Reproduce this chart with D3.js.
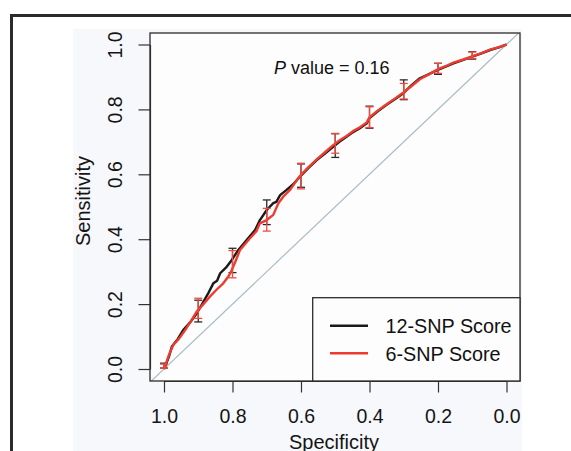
<!DOCTYPE html>
<html>
<head>
<meta charset="utf-8">
<script src="https://cdn.jsdelivr.net/npm/d3@7"></script>
<style>
  body { margin: 0; background: #fff; }
  svg { display: block; }
  text { font-family: "Liberation Sans", Arial, Helvetica, sans-serif; }
</style>
</head>
<body>
<svg id="chart"></svg>
<script>
// ROC curve, 12-SNP score (black)
const specBlack = [1.000, 0.995, 0.985, 0.977, 0.960, 0.944, 0.925, 0.904, 0.890, 0.871, 0.856, 0.845, 0.836, 0.817, 0.802, 0.783, 0.758, 0.734, 0.720, 0.700, 0.681, 0.672, 0.661, 0.642, 0.622, 0.603, 0.578, 0.554, 0.530, 0.506, 0.487, 0.467, 0.448, 0.428, 0.408, 0.400, 0.375, 0.350, 0.325, 0.301, 0.277, 0.253, 0.228, 0.202, 0.178, 0.155, 0.128, 0.102, 0.075, 0.048, 0.022, 0.000];
const sensBlack = [0.000, 0.012, 0.040, 0.069, 0.092, 0.120, 0.142, 0.172, 0.198, 0.233, 0.264, 0.272, 0.295, 0.315, 0.336, 0.367, 0.398, 0.428, 0.459, 0.490, 0.511, 0.515, 0.536, 0.552, 0.570, 0.593, 0.620, 0.644, 0.664, 0.685, 0.701, 0.716, 0.730, 0.742, 0.757, 0.773, 0.795, 0.814, 0.832, 0.850, 0.875, 0.896, 0.908, 0.921, 0.932, 0.942, 0.952, 0.962, 0.972, 0.983, 0.991, 1.000];

// ROC curve, 6-SNP score (red)
const specRed = [1.000, 0.995, 0.985, 0.973, 0.955, 0.935, 0.920, 0.905, 0.885, 0.866, 0.846, 0.827, 0.812, 0.802, 0.790, 0.778, 0.749, 0.730, 0.720, 0.700, 0.681, 0.666, 0.652, 0.632, 0.603, 0.578, 0.554, 0.530, 0.506, 0.487, 0.467, 0.448, 0.428, 0.408, 0.400, 0.375, 0.350, 0.325, 0.301, 0.277, 0.253, 0.228, 0.202, 0.178, 0.155, 0.128, 0.102, 0.075, 0.048, 0.022, 0.000];
const sensRed = [0.000, 0.014, 0.045, 0.074, 0.095, 0.125, 0.150, 0.176, 0.200, 0.223, 0.245, 0.264, 0.285, 0.305, 0.335, 0.367, 0.403, 0.425, 0.449, 0.459, 0.475, 0.511, 0.531, 0.552, 0.595, 0.622, 0.646, 0.668, 0.690, 0.705, 0.718, 0.733, 0.745, 0.760, 0.776, 0.797, 0.816, 0.834, 0.852, 0.872, 0.893, 0.907, 0.923, 0.933, 0.944, 0.953, 0.963, 0.973, 0.984, 0.992, 1.000];

// confidence intervals of sensitivity
const ciSpec = [1.0, 0.9, 0.8, 0.7, 0.6, 0.5, 0.4, 0.3, 0.2, 0.1];
const ciBlackLo = [0.003, 0.145, 0.297, 0.445, 0.560, 0.652, 0.742, 0.830, 0.908, 0.955];
const ciBlackHi = [0.018, 0.212, 0.372, 0.521, 0.632, 0.725, 0.810, 0.891, 0.942, 0.978];
const ciRedLo = [0.003, 0.156, 0.281, 0.425, 0.555, 0.665, 0.744, 0.832, 0.911, 0.957];
const ciRedHi = [0.015, 0.218, 0.365, 0.495, 0.634, 0.726, 0.808, 0.880, 0.942, 0.977];

const tickValues = [1.0, 0.8, 0.6, 0.4, 0.2, 0.0];
const seriesNames = ["12-SNP Score", "6-SNP Score"];
const seriesColors = ["#1a1a1a", "#ee3b30"];
const pValue = "0.16";

const FONT = '"Liberation Sans", Arial, Helvetica, sans-serif';
const width = 571, height = 451;
const box = { left: 150, right: 520, top: 33, bottom: 381 };

const svg = d3.select("#chart").attr("width", width).attr("height", height);

// light figure background and outer frame
svg.append("rect")
  .attr("x", 73).attr("y", 29)
  .attr("width", 449).attr("height", height - 29)
  .attr("fill", "#f7f8fb");
svg.append("rect")
  .attr("x", 11.5).attr("y", 15.5)
  .attr("width", width + 20).attr("height", height + 20)
  .attr("fill", "none")
  .attr("stroke", "#2b2b2b")
  .attr("stroke-width", 3);

// plot area
svg.append("rect")
  .attr("x", box.left).attr("y", box.top)
  .attr("width", box.right - box.left).attr("height", box.bottom - box.top)
  .attr("fill", "#fdfdfd");

svg.append("clipPath").attr("id", "clip")
  .append("rect")
  .attr("x", box.left).attr("y", box.top)
  .attr("width", box.right - box.left).attr("height", box.bottom - box.top);

// Scales
const xScale = d3.scaleLinear().domain([1, 0]).range([164, 506.5]);
const yScale = d3.scaleLinear().domain([0, 1]).range([369, 44.5]);

const plot = svg.append("g").attr("clip-path", "url(#clip)");

// chance diagonal
plot.append("line")
  .attr("x1", xScale(1.1)).attr("y1", yScale(-0.1))
  .attr("x2", xScale(-0.1)).attr("y2", yScale(1.1))
  .attr("stroke", "#a9bcc6")
  .attr("stroke-width", 1.2);

const lineGenerator = d3.line()
  .x((d) => xScale(d[0]))
  .y((d) => yScale(d[1]));

function drawCurve(spec, sens, color) {
  plot.append("path")
    .datum(spec.map((s, i) => [s, sens[i]]))
    .attr("fill", "none")
    .attr("stroke", color)
    .attr("stroke-width", 2.4)
    .attr("stroke-linejoin", "round")
    .attr("d", lineGenerator);
}

function drawBars(lo, hi, color) {
  const g = plot.append("g")
    .attr("stroke", color)
    .attr("stroke-width", 1.3);
  ciSpec.forEach((s, i) => {
    const x = xScale(s);
    g.append("line")
      .attr("x1", x).attr("x2", x)
      .attr("y1", yScale(lo[i])).attr("y2", yScale(hi[i]));
    [lo[i], hi[i]].forEach((v) => {
      g.append("line")
        .attr("x1", x - 4).attr("x2", x + 4)
        .attr("y1", yScale(v)).attr("y2", yScale(v));
    });
  });
}

drawCurve(specBlack, sensBlack, seriesColors[0]);
drawBars(ciBlackLo, ciBlackHi, "#2a2a2a");
drawCurve(specRed, sensRed, seriesColors[1]);
drawBars(ciRedLo, ciRedHi, "#f04a3e");

// Axis
const yAxis = d3.axisLeft(yScale)
  .tickValues(tickValues)
  .tickSize(11.5)
  .tickSizeOuter(0)
  .tickFormat(d3.format(".1f"));

const yG = svg.append("g")
  .attr("transform", `translate(${box.left},0)`)
  .call(yAxis)
  .attr("font-family", FONT)
  .attr("font-size", 19);
yG.selectAll("line, path").attr("stroke", "#333").attr("stroke-width", 1.2);
yG.selectAll("text")
  .attr("x", null).attr("dy", null)
  .attr("text-anchor", "middle")
  .attr("transform", "translate(-28,0) rotate(-90)")
  .style("font-family", FONT)
  .style("font-size", "19.5px")
  .attr("fill", "#151515");

const xAxis = d3.axisBottom(xScale)
  .tickValues(tickValues)
  .tickSize(11.5)
  .tickSizeOuter(0)
  .tickFormat(d3.format(".1f"));

const xG = svg.append("g")
  .attr("transform", `translate(0,${box.bottom})`)
  .call(xAxis)
  .attr("font-family", FONT)
  .attr("font-size", 19);
xG.selectAll("line, path").attr("stroke", "#333").attr("stroke-width", 1.2);
xG.selectAll("text")
  .attr("y", 42).attr("dy", null)
  .style("font-family", FONT)
  .style("font-size", "19.5px")
  .attr("fill", "#151515");

// box frame
svg.append("rect")
  .attr("x", box.left).attr("y", box.top)
  .attr("width", box.right - box.left).attr("height", box.bottom - box.top)
  .attr("fill", "none")
  .attr("stroke", "#2e2a28")
  .attr("stroke-width", 1.3);

// axis titles
svg.append("text")
  .attr("transform", "translate(89.5,201) rotate(-90)")
  .attr("text-anchor", "middle")
  .style("font-size", "20px")
  .attr("fill", "#151515")
  .text("Sensitivity");

svg.append("text")
  .attr("x", 334).attr("y", 448.5)
  .attr("text-anchor", "middle")
  .style("font-size", "20px")
  .attr("fill", "#151515")
  .text("Specificity");

// P value annotation
const pText = svg.append("text")
  .attr("x", 274).attr("y", 74)
  .style("font-size", "18px")
  .attr("fill", "#111");
pText.append("tspan").style("font-style", "italic").text("P");
pText.append("tspan").text(" value = " + pValue);

// Legend
const legend = svg.append("g");
legend.append("rect")
  .attr("x", 312.7).attr("y", 297.7)
  .attr("width", box.right - 312.7).attr("height", box.bottom - 297.7)
  .attr("fill", "#fdfdfd")
  .attr("stroke", "#2e2a28")
  .attr("stroke-width", 1.3);

seriesNames.forEach((name, i) => {
  const ly = 325.7 + i * 27.6;
  legend.append("line")
    .attr("x1", 330).attr("x2", 368)
    .attr("y1", ly).attr("y2", ly)
    .attr("stroke", seriesColors[i])
    .attr("stroke-width", 2.4);
  legend.append("text")
    .attr("x", 385.5).attr("y", ly + 7.5)
    .style("font-size", "19.8px")
    .attr("fill", "#111")
    .text(name);
});
</script>
</body>
</html>
